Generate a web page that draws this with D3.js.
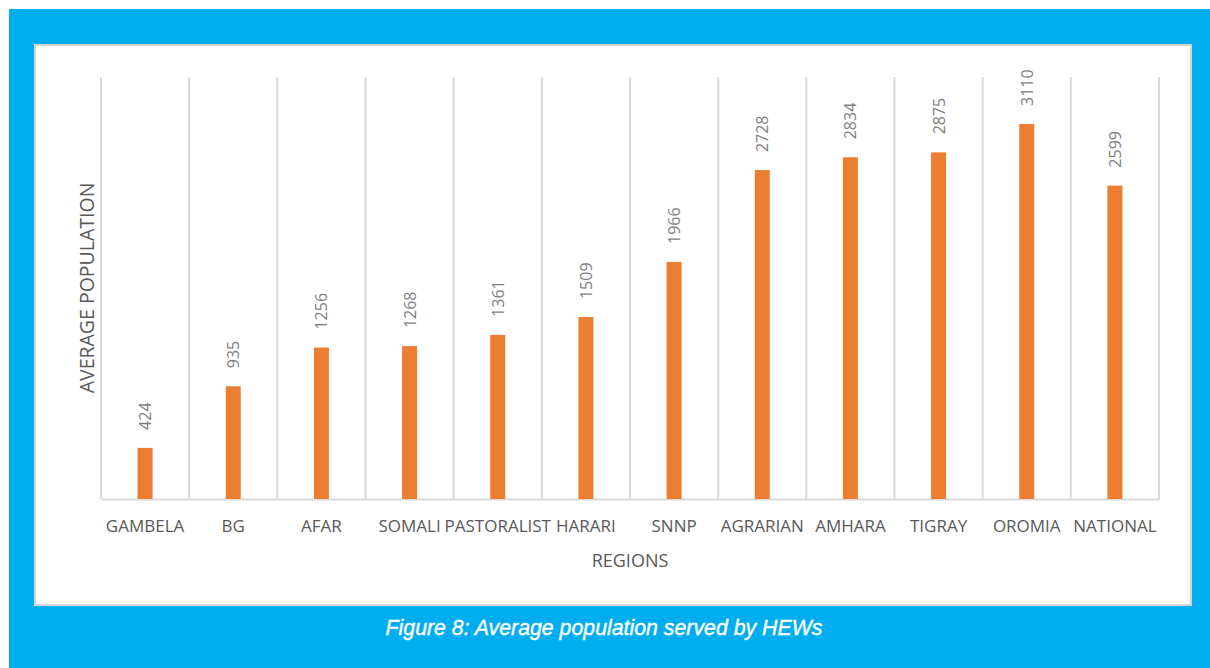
<!DOCTYPE html>
<html><head><meta charset="utf-8">
<script src="https://cdn.jsdelivr.net/npm/d3@7"></script>
<style>html,body{margin:0;padding:0;background:#fff;}svg{display:block;}</style>
</head><body>
<svg id="c" width="1210" height="668"></svg>
<script>
const categories = ["GAMBELA","BG","AFAR","SOMALI","PASTORALIST","HARARI","SNNP","AGRARIAN","AMHARA","TIGRAY","OROMIA","NATIONAL"];
const values = [424,935,1256,1268,1361,1509,1966,2728,2834,2875,3110,2599];
const yDomain = [0,3500];
const yTitle = "AVERAGE POPULATION";
const xTitle = "REGIONS";
const caption = "Figure 8: Average population served by HEWs";

const svg = d3.select("#c");
svg.append("rect").attr("x",9).attr("y",9).attr("width",1201).attr("height",659).attr("fill","#00AEEF");
svg.append("rect").attr("x",35).attr("y",45).attr("width",1156).attr("height",560)
  .attr("fill","#fff").attr("stroke","#d4d4d4").attr("stroke-width",2);

const pL=101, pR=1159, pT=77, pB=499;
const x = d3.scaleBand().domain(categories).range([pL,pR]).paddingInner(0).paddingOuter(0);
const y = d3.scaleLinear().domain(yDomain).range([pB,pT]);
const g = svg.append("g");

const bounds = categories.map(c=>x(c)).concat([pR]);
g.selectAll("line.grid").data(bounds).join("line").attr("class","grid")
  .attr("x1",d=>d).attr("x2",d=>d).attr("y1",pT).attr("y2",pB)
  .attr("stroke","#d9d9d9").attr("stroke-width",2);

const xAxis = d3.axisBottom(x).tickSize(0).tickPadding(0);
const ax = g.append("g").attr("transform",`translate(0,${pB})`).call(xAxis);
ax.select(".domain").attr("stroke","#d9d9d9").attr("stroke-width",2);
ax.selectAll("text").attr("font-family","'Open Sans'").attr("font-size",17).attr("fill","#595959")
  .attr("dy",null).attr("y",33);

const bw = 15;
g.selectAll("rect.bar").data(values).join("rect").attr("class","bar")
  .attr("x",(d,i)=>x(categories[i])+x.bandwidth()/2-bw/2)
  .attr("width",bw).attr("y",d=>y(d)).attr("height",d=>y(0)-y(d)).attr("fill","#ED7D31");

g.selectAll("text.val").data(values).join("text").attr("class","val")
  .attr("transform",(d,i)=>`translate(${x(categories[i])+x.bandwidth()/2+6},${y(d)-18}) rotate(-90)`)
  .attr("font-family","'Open Sans'").attr("font-size",16).attr("fill","#7f7f7f")
  .text(d=>d);

svg.append("text").attr("transform",`translate(94,288) rotate(-90)`)
  .attr("text-anchor","middle").attr("font-family","'Open Sans'").attr("font-size",19.5).attr("fill","#595959").text(yTitle);
svg.append("text").attr("x",(pL+pR)/2).attr("y",567).attr("text-anchor","middle")
  .attr("font-family","'Open Sans'").attr("font-size",18).attr("fill","#595959").text(xTitle);

svg.append("text").attr("x",604).attr("y",635).attr("text-anchor","middle")
  .attr("font-family","'Liberation Sans'").attr("font-style","italic").attr("font-size",21.3)
  .attr("fill","#fff").attr("stroke","#fff").attr("stroke-width",0.4).text(caption);
</script>
</body></html>
